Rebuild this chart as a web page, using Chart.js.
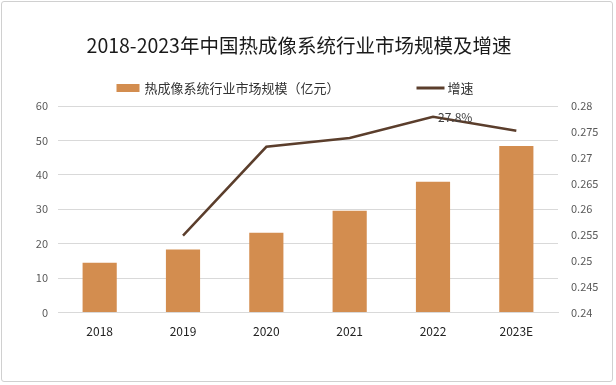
<!DOCTYPE html>
<html>
<head>
<meta charset="utf-8">
<script src="https://cdn.jsdelivr.net/npm/chart.js@4"></script>
<style>
  html, body { margin: 0; padding: 0; background: #fff; }
  #wrap {
    position: absolute; left: 1px; top: 1px;
    width: 612px; height: 381px;
    border: 1px solid #d0d0d0; border-radius: 3px;
    box-sizing: border-box; background: #fff;
  }
  canvas { display: block; }
</style>
</head>
<body>
<div id="wrap"><canvas id="chart" width="610" height="379"></canvas></div>
<script>
// 数据
const chartTitle = '2018-2023年中国热成像系统行业市场规模及增速';
const years = ['2018', '2019', '2020', '2021', '2022', '2023E'];
const marketSize = [14.5, 18.3, 23.2, 29.6, 38.0, 48.4];
const growth = [null, 0.2549, 0.2721, 0.2738, 0.2779, 0.2752];
const growthLabels = [null, null, null, null, '27.8%', null];
const leftTicks = [0, 10, 20, 30, 40, 50, 60];
const rightTicks = [0.24, 0.245, 0.25, 0.255, 0.26, 0.265, 0.27, 0.275, 0.28];

const fontFamily = '"Microsoft YaHei", "Noto Sans CJK SC", sans-serif';
const barColor = '#D38D4F';
const lineColor = '#5B3E2C';

// 折线上的数据标签
const pointLabelPlugin = {
    id: 'pointLabels',
    afterDatasetsDraw(chart) {
        const meta = chart.getDatasetMeta(1);
        const ctx = chart.ctx;
        ctx.save();
        ctx.font = '12px ' + fontFamily;
        ctx.fillStyle = '#404040';
        ctx.textAlign = 'left';
        ctx.textBaseline = 'middle';
        meta.data.forEach((pt, i) => {
            if (!growthLabels[i]) return;
            ctx.fillText(growthLabels[i], pt.x + 5, pt.y + 1);
        });
        ctx.restore();
    }
};

// 标题和图例：原图不居中、图例间距大，自己画
const headerPlugin = {
    id: 'header',
    afterDraw(chart) {
        const ctx = chart.ctx;
        const ds = chart.data.datasets;
        ctx.save();
        ctx.textBaseline = 'middle';

        ctx.font = '19.5px ' + fontFamily;
        ctx.fillStyle = '#1a1a1a';
        ctx.textAlign = 'center';
        ctx.fillText(chartTitle, 297, 44);

        const y = 86;
        ctx.font = '13px ' + fontFamily;
        ctx.textAlign = 'left';
        const w1 = ctx.measureText(ds[0].label).width;
        const w2 = ctx.measureText(ds[1].label).width;
        const total = 23 + 5 + w1 + 77 + 28 + 3 + w2;
        let x = 293 - total / 2;
        ctx.fillStyle = ds[0].backgroundColor;
        ctx.fillRect(x, y - 4, 23, 8);
        x += 28;
        ctx.fillStyle = '#333';
        ctx.fillText(ds[0].label, x, y);
        x += w1 + 77;
        ctx.strokeStyle = ds[1].borderColor;
        ctx.lineWidth = 3;
        ctx.beginPath();
        ctx.moveTo(x, y);
        ctx.lineTo(x + 28, y);
        ctx.stroke();
        x += 31;
        ctx.fillText(ds[1].label, x, y);
        ctx.restore();
    }
};

new Chart(document.getElementById('chart'), {
    type: 'bar',
    data: {
        labels: years,
        datasets: [
            {
                type: 'bar',
                label: '热成像系统行业市场规模（亿元）',
                data: marketSize,
                backgroundColor: barColor,
                borderWidth: 0,
                barPercentage: 0.82,
                categoryPercentage: 0.5,
                yAxisID: 'y',
                order: 2
            },
            {
                type: 'line',
                label: '增速',
                data: growth,
                borderColor: lineColor,
                backgroundColor: lineColor,
                borderWidth: 2.5,
                pointRadius: 0,
                tension: 0,
                yAxisID: 'y1',
                order: 1
            }
        ]
    },
    options: {
        responsive: false,
        animation: false,
        layout: { padding: { left: 0, right: 0, top: 104, bottom: 38 } },
        plugins: {
            title: { display: false },
            legend: { display: false },
            tooltip: { enabled: false }
        },
        scales: {
            x: {
                grid: { display: false },
                border: { display: true, color: '#d9d9d9' },
                ticks: { color: '#222', font: { family: fontFamily, size: 12 }, padding: 4 }
            },
            y: {
                position: 'left',
                min: leftTicks[0],
                max: leftTicks[leftTicks.length - 1],
                grid: { color: '#d9d9d9', drawTicks: false },
                border: { display: false },
                ticks: {
                    stepSize: 10,
                    color: '#595959',
                    font: { family: fontFamily, size: 11 },
                    padding: 10
                },
                afterFit(scale) { scale.width = 56; }
            },
            y1: {
                position: 'right',
                min: rightTicks[0],
                max: rightTicks[rightTicks.length - 1],
                grid: { display: false, drawTicks: false },
                border: { display: false },
                ticks: {
                    stepSize: 0.005,
                    color: '#595959',
                    font: { family: fontFamily, size: 11 },
                    padding: 13,
                    callback: v => String(Number(v.toFixed(3)))
                },
                afterFit(scale) { scale.width = 54; }
            }
        }
    },
    plugins: [pointLabelPlugin, headerPlugin]
});
</script>
</body>
</html>
